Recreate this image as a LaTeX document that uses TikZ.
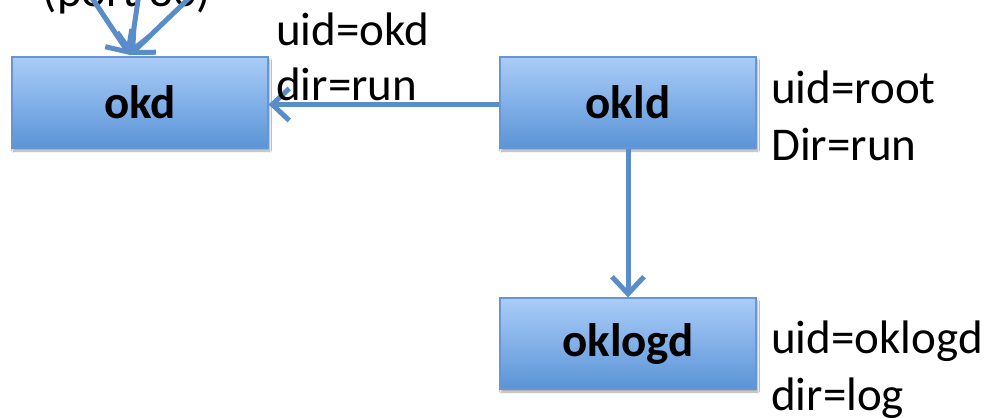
\documentclass[tikz,border=0pt]{standalone}
\usepackage{fontspec}
\setmainfont{Carlito}
\usetikzlibrary{arrows.meta,shadows.blur}

\definecolor{boxtop}{RGB}{170,204,248}
\definecolor{boxbottom}{RGB}{90,148,215}
\definecolor{boxedge}{RGB}{104,150,208}
\definecolor{linkblue}{RGB}{88,141,202}

\tikzset{
  procbox/.style={
    draw=boxedge, line width=1.2pt,
    top color=boxtop, bottom color=boxbottom,
    minimum width=256pt, minimum height=91pt,
    inner sep=0pt,
    font=\fontsize{47}{52}\selectfont\bfseries,
    blur shadow={shadow blur steps=6, shadow xshift=1.5pt, shadow yshift=-3pt,
                 shadow opacity=35, shadow blur extra rounding=0pt}
  },
  infotext/.style={anchor=base west, inner sep=0pt,
    font=\fontsize{47}{52}\selectfont},
  link/.style={draw=linkblue, line width=5pt,
    -{Straight Barb[length=17pt,width=32pt,line width=5pt]}}
}

\begin{document}
\begin{tikzpicture}[x=1pt,y=-1pt]
  \clip (0,0) rectangle (989,418);
  \fill[white] (0,0) rectangle (989,418);

  % daemons
  \node[procbox] (okd)    at (140,102.5) {okd};
  \node[procbox] (okld)   at (628,102.5) {okld};
  \node[procbox] (oklogd) at (628,343.5) {oklogd};

  % incoming connections
  \node[infotext, anchor=base] (port) at (127,6) {(port 80)};
  \coordinate (inA) at (80,-20);
  \coordinate (inB) at (141,-20);
  \coordinate (inC) at (208,-20);
  \coordinate (okdtop) at (130,55);
  \draw[link] (inA) -- (okdtop);
  \draw[link] (inB) -- (okdtop);
  \draw[link] (inC) -- (okdtop);

  % launches
  \draw[link] ([yshift=-2pt]okld.west) -- ([yshift=-2pt]okd.east);
  \draw[link] (okld.south) -- (oklogd.north);

  % privileges
  \node[infotext] (okduid)    at (276,45)  {uid=okd};
  \node[infotext] (okddir)    at (276,100) {dir=run};
  \node[infotext] (oklduid)   at (771,103) {uid=root};
  \node[infotext] (oklddir)   at (771,160) {Dir=run};
  \node[infotext] (oklogduid) at (771,353) {uid=oklogd};
  \node[infotext] (oklogddir) at (771,410) {dir=log};
\end{tikzpicture}
\end{document}
